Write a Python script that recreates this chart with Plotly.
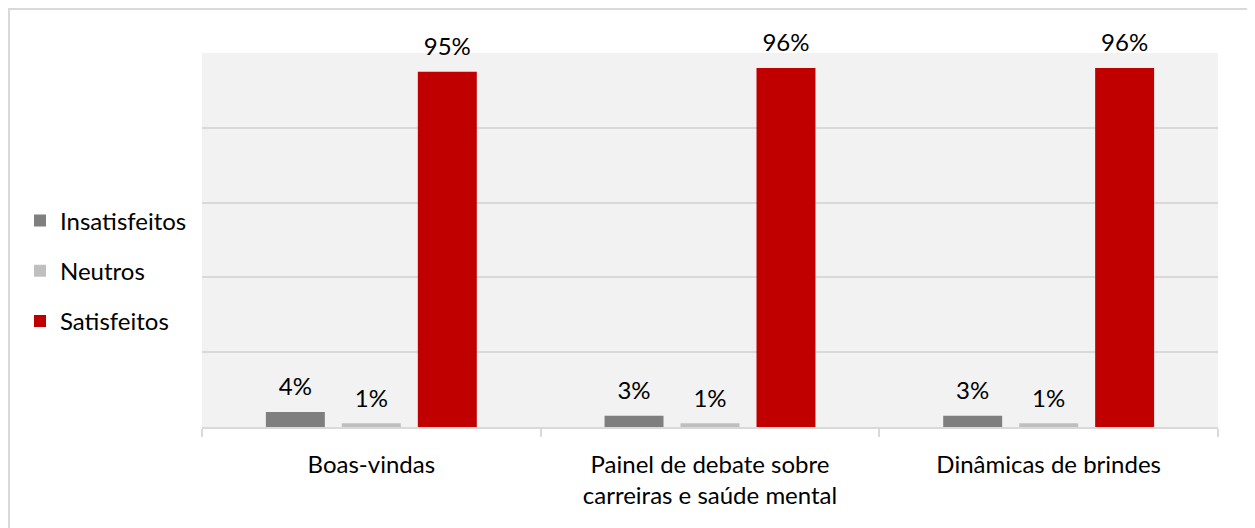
import plotly.graph_objects as go

categories = ["Boas-vindas", "Painel de debate sobre<br>carreiras e saúde mental", "Dinâmicas de brindes"]
insatisfeitos = [0.04, 0.03, 0.03]
neutros = [0.01, 0.01, 0.01]
satisfeitos = [0.95, 0.96, 0.96]
series_names = ["Insatisfeitos", "Neutros", "Satisfeitos"]
series_colors = ["#7f7f7f", "#bfbfbf", "#c00000"]

FONT = "Lato, Calibri, sans-serif"
L, T = 194, 45
PW, PH = 1016, 374

fig = go.Figure()
for name, vals, col in zip(series_names, [insatisfeitos, neutros, satisfeitos], series_colors):
    fig.add_trace(go.Bar(
        name=name, x=categories, y=vals, marker=dict(color=col, line=dict(width=0)),
        text=[f"{round(v*100)}%" for v in vals], textposition="outside",
        texttemplate="<span style='font-size:24px'>%{text}</span><br>\u00a0",
        textfont=dict(family=FONT, size=9, color="#000000"),
        constraintext="none",
        cliponaxis=False, legendgroup=name, hoverinfo="skip",
    ))

fig.update_layout(
    width=1255, height=528,
    margin=dict(l=L, r=1255 - L - PW, t=T, b=528 - T - PH),
    paper_bgcolor="white", plot_bgcolor="#f2f2f2",
    barmode="group", bargap=0.327, bargroupgap=0.224,
    font=dict(family=FONT, size=24, color="#000000"),
    showlegend=True,
    legend=dict(x=(12 - L) / PW, xanchor="left", y=(PH - (271 - 8 - T)) / PH, yanchor="middle",
                font=dict(family=FONT, size=24, color="#000000"),
                tracegroupgap=16, bgcolor="rgba(0,0,0,0)", itemwidth=30),
    xaxis=dict(type="category", showgrid=False, showline=True, linecolor="#d9d9d9", linewidth=2,
               ticks="outside", tickson="boundaries", ticklen=8, tickcolor="#d9d9d9", tickwidth=2,
               tickfont=dict(family=FONT, size=24, color="#000000"), ticklabelstandoff=15),
    yaxis=dict(range=[0, 1], dtick=0.2, showticklabels=False, showgrid=True, gridcolor="#d9d9d9",
               gridwidth=1.5, zeroline=False, showline=False, ticks=""),
    shapes=[dict(type="rect", xref="paper", yref="paper",
                 x0=(1 - L) / PW, x1=(1300 - L) / PW,
                 y0=(PH - 600) / PH, y1=(PH + T - 1) / PH,
                 line=dict(color="#d9d9d9", width=2), fillcolor="rgba(0,0,0,0)", layer="below")],
)

fig.write_html("out.html")
